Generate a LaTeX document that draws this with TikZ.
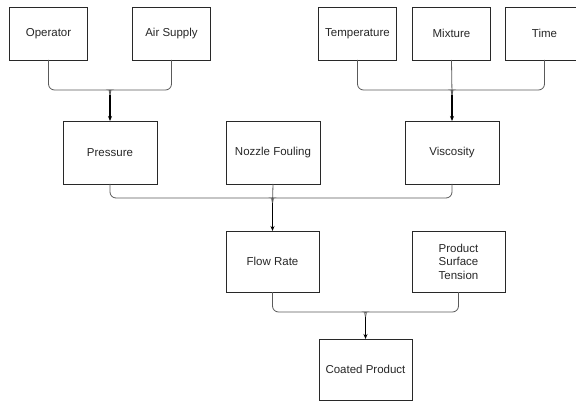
\documentclass[tikz,border=0pt]{standalone}
\usepackage{fontspec}
\setmainfont{Liberation Sans}
\usetikzlibrary{arrows.meta, positioning}
\definecolor{boxline}{RGB}{40, 40, 40}
\definecolor{feedline}{RGB}{90, 90, 90}

\begin{document}
\begin{tikzpicture}[
    x=1pt, y=1pt,
    every node/.style = {font=\fontsize{11.5}{13.5}\selectfont, text=black!85},
    box/.style = {draw=boxline, line width=0.8pt, outer sep=0pt, inner sep=2pt,
                  minimum width=78pt, minimum height=53pt, align=center},
    midbox/.style = {box, minimum width=94pt, minimum height=63pt},
    lowbox/.style = {box, minimum width=93pt, minimum height=61pt},
    feed/.style = {draw=feedline, line width=0.8pt, rounded corners=6pt},
    arrow/.style = {-{Stealth[length=5pt, width=4pt]}, line width=1.4pt, color=black}
]
  \useasboundingbox (0,0) rectangle (576,-401);

  % top row
  \node[box] (operator) at (48.5,-33.5) {Operator};
  \node[box, right=45pt of operator] (airsupply) {Air Supply};
  \node[box, right=108pt of airsupply] (temperature) {Temperature};
  \node[box, right=16pt of temperature] (mixture) {Mixture};
  \node[box, right=15pt of mixture] (time) {Time};

  % middle row
  \node[midbox] (pressure) at (110,-152.5) {Pressure};
  \node[midbox, right=69pt of pressure] (nozzle) {Nozzle Fouling};
  \node[midbox, right=85pt of nozzle] (viscosity) {Viscosity};

  % lower rows
  \node[lowbox] (flowrate) at (272.5,-261.5) {Flow Rate};
  \node[lowbox, right=93pt of flowrate] (tension) {Product\\Surface\\Tension};
  \node[lowbox] (coated) at (365.5,-369.5) {Coated Product};

  % junctions
  \coordinate (jpress) at ([yshift=26pt]pressure.north);
  \coordinate (jvisc) at ([yshift=26pt]viscosity.north);
  \coordinate (jflow) at ([yshift=28pt]flowrate.north);
  \coordinate (jcoat) at ([yshift=22pt]coated.north);

  \draw[feed] (operator.south) |- ([xshift=-5pt, yshift=5pt]jpress) to[out=0, in=90] (jpress);
  \draw[feed] (airsupply.south) |- ([xshift=5pt, yshift=5pt]jpress) to[out=180, in=90] (jpress);
  \draw[arrow] (jpress) -- (pressure.north);

  \draw[feed] (temperature.south) |- ([xshift=-5pt, yshift=5pt]jvisc) to[out=0, in=90] (jvisc);
  \draw[feed] (mixture.south) -- (jvisc);
  \draw[feed] (time.south) |- ([xshift=5pt, yshift=5pt]jvisc) to[out=180, in=90] (jvisc);
  \draw[arrow] (jvisc) -- (viscosity.north);

  \draw[feed] (pressure.south) |- ([xshift=-5pt, yshift=5pt]jflow) to[out=0, in=90] (jflow);
  \draw[feed] (nozzle.south) -- (jflow);
  \draw[feed] (viscosity.south) |- ([xshift=5pt, yshift=5pt]jflow) to[out=180, in=90] (jflow);
  \draw[arrow] (jflow) -- (flowrate.north);

  \draw[feed] (flowrate.south) |- ([xshift=-5pt, yshift=5pt]jcoat) to[out=0, in=90] (jcoat);
  \draw[feed] (tension.south) |- ([xshift=5pt, yshift=5pt]jcoat) to[out=180, in=90] (jcoat);
  \draw[arrow] (jcoat) -- (coated.north);
\end{tikzpicture}
\end{document}
